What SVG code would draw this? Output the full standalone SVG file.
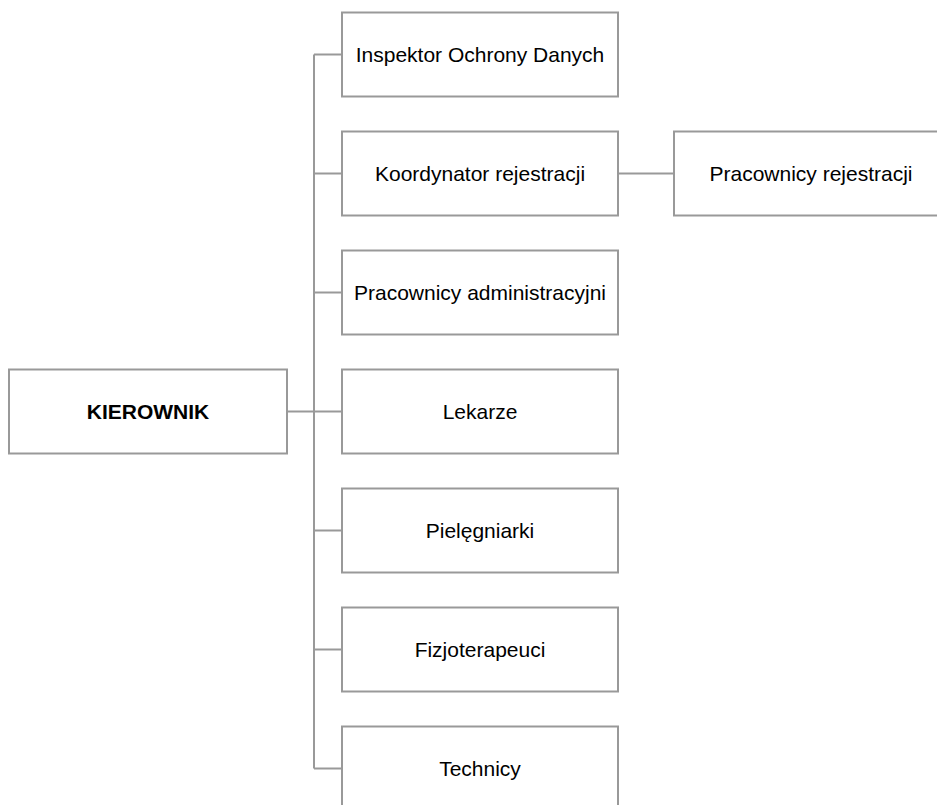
<svg xmlns="http://www.w3.org/2000/svg" width="937" height="805" viewBox="0 0 937 805">
<style>
.box{fill:#fff;stroke:#999;stroke-width:2}
.lbl{font-family:"Liberation Sans",Arial,sans-serif;font-size:21px;fill:#000;text-anchor:middle}
.b{font-weight:bold}
.conn{fill:none;stroke:#999;stroke-width:2}
</style>
<rect width="937" height="805" fill="#fff"/>
<g id="connectors">
<path class="conn" d="M314,54.5V768.5M287,411.5H342M314,54.5H342M314,173.5H342M314,292.5H342M314,530.5H342M314,649.5H342M314,768.5H342M618,173.5H674"/>
</g>
<g id="kierownik"><rect class="box" x="9" y="369.5" width="278" height="84"/><text class="lbl b" x="148" y="419">KIEROWNIK</text></g>
<g id="inspektor"><rect class="box" x="342" y="12.5" width="276" height="84"/><text class="lbl" x="480" y="62">Inspektor Ochrony Danych</text></g>
<g id="koordynator"><rect class="box" x="342" y="131.5" width="276" height="84"/><text class="lbl" x="480" y="181">Koordynator rejestracji</text></g>
<g id="pracownicy-rejestracji"><rect class="box" x="674" y="131.5" width="276" height="84"/><text class="lbl" x="811" y="181">Pracownicy rejestracji</text></g>
<g id="administracyjni"><rect class="box" x="342" y="250.5" width="276" height="84"/><text class="lbl" x="480" y="300">Pracownicy administracyjni</text></g>
<g id="lekarze"><rect class="box" x="342" y="369.5" width="276" height="84"/><text class="lbl" x="480" y="419">Lekarze</text></g>
<g id="pielegniarki"><rect class="box" x="342" y="488.5" width="276" height="84"/><text class="lbl" x="480" y="538">Pielęgniarki</text></g>
<g id="fizjoterapeuci"><rect class="box" x="342" y="607.5" width="276" height="84"/><text class="lbl" x="480" y="657">Fizjoterapeuci</text></g>
<g id="technicy"><rect class="box" x="342" y="726.5" width="276" height="84"/><text class="lbl" x="480" y="776">Technicy</text></g>
</svg>
